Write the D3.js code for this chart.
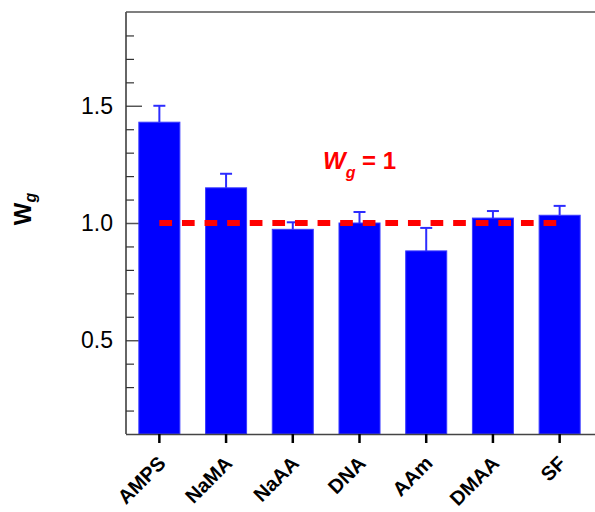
<!DOCTYPE html>
<html>
<head>
<meta charset="utf-8">
<script src="https://cdn.jsdelivr.net/npm/d3@7/dist/d3.min.js"></script>
<style>
  body { margin: 0; background: #fff; }
  svg { display: block; font-family: "Liberation Sans", Arial, sans-serif; }
</style>
</head>
<body>
<svg id="chart" width="595" height="512"></svg>
<script>
const categories = ["AMPS", "NaMA", "NaAA", "DNA", "AAm", "DMAA", "SF"];
const values = [1.43, 1.15, 0.973, 1.0, 0.881, 1.021, 1.033];
const errors = [0.07, 0.06, 0.03, 0.047, 0.098, 0.03, 0.04];
const majorTicks = [0.5, 1.0, 1.5];
const minorTicks = [0.2, 0.3, 0.4, 0.6, 0.7, 0.8, 0.9, 1.1, 1.2, 1.3, 1.4, 1.6, 1.7, 1.8];
const yDomain = [0.1, 1.9];
const refValue = 1;

const svg = d3.select("#chart");
const mLeft = 126, mRight = 595, mTop = 12, mBottom = 434;

const x = d3.scaleBand().domain(categories).range([mLeft, 593]).paddingInner(0.385).paddingOuter(0.1925);
const y = d3.scaleLinear().domain(yDomain).range([mBottom, mTop]);

// major ticks with labels (behind bars)
const gMajor = svg.append("g").attr("transform", `translate(${mLeft},0)`)
  .call(d3.axisLeft(y).tickValues(majorTicks).tickSizeInner(-16).tickSizeOuter(0).tickPadding(13).tickFormat(d3.format(".1f")));
gMajor.select(".domain").remove();
gMajor.selectAll(".tick line").attr("stroke", "#555").attr("stroke-width", 1.5);
gMajor.selectAll(".tick text").attr("font-size", 23).attr("fill", "#000").attr("font-family", "Liberation Sans, Arial, sans-serif");

const gMinor = svg.append("g").attr("transform", `translate(${mLeft},0)`)
  .call(d3.axisLeft(y).tickValues(minorTicks).tickSizeInner(-8).tickSizeOuter(0).tickFormat(""));
gMinor.select(".domain").remove();
gMinor.selectAll(".tick line").attr("stroke", "#333").attr("stroke-width", 1.2);

// bars
const bw = x.bandwidth();
svg.append("g").selectAll("rect").data(categories).join("rect")
  .attr("x", d => x(d))
  .attr("y", (d, i) => y(values[i]))
  .attr("width", bw)
  .attr("height", (d, i) => mBottom - y(values[i]))
  .attr("fill", "#0000ff")
  .attr("stroke", "#3a3aff")
  .attr("stroke-width", 1);

// error bars (upper)
const eg = svg.append("g").attr("stroke", "#2c2cff").attr("stroke-width", 2).attr("fill", "none");
categories.forEach((c, i) => {
  const cx = x(c) + bw / 2;
  eg.append("line").attr("x1", cx).attr("x2", cx).attr("y1", y(values[i])).attr("y2", y(values[i] + errors[i]));
  eg.append("line").attr("x1", cx - 6).attr("x2", cx + 6).attr("y1", y(values[i] + errors[i])).attr("y2", y(values[i] + errors[i]));
});

// reference dashed line
const x0 = x(categories[0]) + bw / 2;
const x1 = x(categories[categories.length - 1]) + bw / 2;
svg.append("line")
  .attr("x1", x0).attr("x2", x1)
  .attr("y1", y(refValue)).attr("y2", y(refValue))
  .attr("stroke", "#ff0000").attr("stroke-width", 6)
  .attr("stroke-dasharray", "12.7,9.9");

// frame lines: left, top
svg.append("line").attr("x1", mLeft).attr("x2", mLeft).attr("y1", mTop).attr("y2", mBottom).attr("stroke", "#333").attr("stroke-width", 1.5);
svg.append("line").attr("x1", mLeft).attr("x2", mRight).attr("y1", mTop).attr("y2", mTop).attr("stroke", "#555").attr("stroke-width", 1.5);

// x axis
const gx = svg.append("g").attr("transform", `translate(0,${mBottom})`)
  .call(d3.axisBottom(x).tickSizeInner(9).tickSizeOuter(0).tickFormat(""));
gx.select(".domain").attr("d", `M${mLeft},0.5H${mRight}`).attr("stroke", "#444").attr("stroke-width", 1.5);
gx.selectAll(".tick line").attr("stroke", "#000").attr("stroke-width", 2.5);

svg.append("g").selectAll("text").data(categories).join("text")
  .attr("transform", d => `translate(${x(d) + bw / 2 + 7.5},${mBottom + 30.5}) rotate(-45)`)
  .attr("text-anchor", "end")
  .attr("font-size", 20)
  .attr("font-weight", "bold")
  .attr("fill", "#000")
  .text(d => d);

// y axis title
const yt = svg.append("text")
  .attr("transform", `translate(31,${(mTop + mBottom) / 2 - 14}) rotate(-90)`)
  .attr("text-anchor", "middle")
  .attr("font-weight", "bold")
  .attr("fill", "#000");
yt.append("tspan").attr("font-size", 24).text("W");
yt.append("tspan").attr("font-size", 16).attr("font-style", "italic").attr("dy", 5).text("g");

// reference label
const rl = svg.append("text")
  .attr("x", 323).attr("y", 169)
  .attr("font-weight", "bold")
  .attr("fill", "#ff0000");
rl.append("tspan").attr("font-size", 24).attr("font-style", "italic").text("W");
rl.append("tspan").attr("font-size", 16).attr("font-style", "italic").attr("dy", 9).text("g");
rl.append("tspan").attr("font-size", 24).attr("dy", -9).text(" = 1");
</script>
</body>
</html>
